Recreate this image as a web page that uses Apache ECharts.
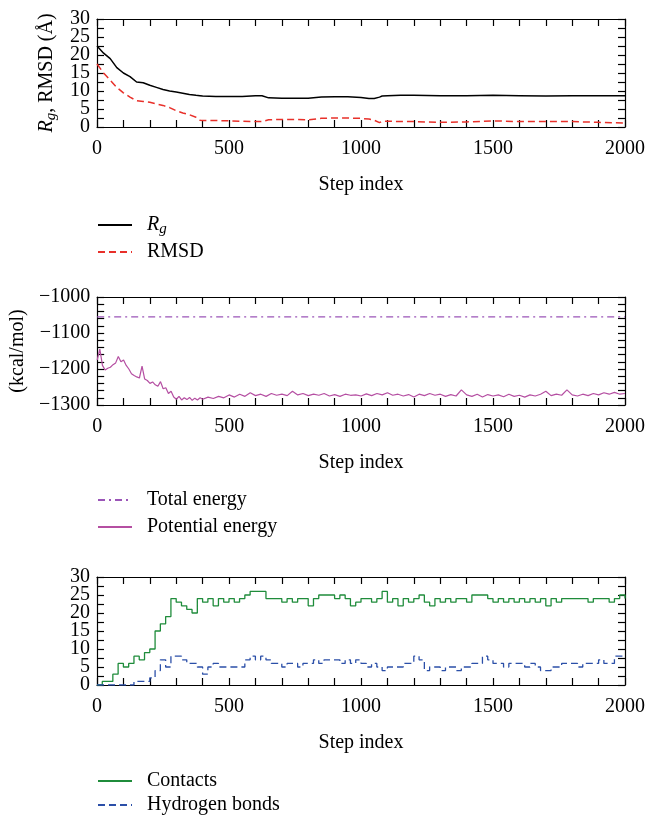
<!DOCTYPE html>
<html>
<head>
<meta charset="utf-8">
<script src="https://cdn.jsdelivr.net/npm/echarts@6/dist/echarts.min.js"></script>
<style>
  html, body { margin: 0; padding: 0; background: #fff; }
</style>
</head>
<body>
<div id="myChart" style="width: 648px; height: 817px;"></div>
<script>
// panel 1: radius of gyration and RMSD
var structSteps = [0, 25, 50, 75, 100, 125, 150, 175, 200, 225, 250, 275, 300, 325, 350, 375, 390, 400, 450, 500,
  550, 600, 625, 650, 700, 750, 800, 850, 900, 950, 1000, 1030, 1050, 1070, 1080, 1100, 1150, 1200, 1300, 1400,
  1500, 1600, 1700, 1800, 1900, 2000];
var rgValues = [22.5, 20.5, 19, 16.5, 15, 14, 12.5, 12.3, 11.6, 11, 10.4, 10, 9.7, 9.4, 9, 8.8, 8.7, 8.6, 8.5, 8.5,
  8.5, 8.7, 8.7, 8.1, 8, 8, 8, 8.3, 8.4, 8.4, 8.2, 7.9, 7.9, 8.3, 8.6, 8.7, 8.8, 8.8, 8.7, 8.7,
  8.8, 8.7, 8.6, 8.7, 8.7, 8.7];
var rmsdValues = [17.5, 15, 13, 11, 9.5, 8.3, 7.3, 7.1, 6.9, 6.4, 6, 5.4, 4.5, 3.9, 3.4, 2.7, 1.9, 1.8, 1.8, 1.7,
  1.6, 1.5, 1.5, 2, 2.1, 2.1, 2, 2.4, 2.5, 2.5, 2.4, 2.2, 1.9, 1.2, 1.6, 1.6, 1.5, 1.5, 1.3, 1.4,
  1.7, 1.5, 1.5, 1.5, 1.3, 1.1];

// panel 2: energies (kcal/mol)
var energySteps = [0, 10, 20, 30, 40, 50, 60, 70, 80, 90, 100, 110, 120, 130, 140, 150, 160, 170, 180, 190,
  200, 210, 220, 230, 240, 250, 260, 270, 280, 290, 300, 310, 320, 330, 340, 350, 360, 370, 380, 390,
  400, 420, 440, 460, 480, 500, 520, 540, 560, 580, 600, 620, 640, 660, 680, 700, 720, 740, 760, 780,
  800, 820, 840, 860, 880, 900, 920, 940, 960, 980, 1000, 1020, 1040, 1060, 1080, 1100, 1120, 1140, 1160, 1180,
  1200, 1220, 1240, 1260, 1280, 1300, 1320, 1340, 1360, 1380, 1400, 1420, 1440, 1460, 1480, 1500, 1520, 1540, 1560, 1580,
  1600, 1620, 1640, 1660, 1680, 1700, 1720, 1740, 1760, 1780, 1800, 1820, 1840, 1860, 1880, 1900, 1920, 1940, 1960, 1980, 2000];
var potentialValues = [-1175, -1145, -1190, -1203, -1198, -1195, -1188, -1183, -1165, -1180, -1175, -1190, -1200, -1213, -1218, -1222, -1225, -1192, -1228, -1232,
  -1240, -1236, -1244, -1248, -1235, -1255, -1252, -1268, -1262, -1278, -1284, -1276, -1286, -1280, -1285, -1279, -1287, -1281, -1286, -1280,
  -1284, -1278, -1282, -1276, -1280, -1272, -1278, -1270, -1276, -1266, -1274, -1270, -1276, -1268, -1273, -1270, -1274, -1262, -1272, -1268,
  -1274, -1270, -1273, -1268, -1275, -1271, -1276, -1270, -1273, -1272, -1275, -1269, -1274, -1268, -1272, -1266, -1273, -1270, -1275, -1271,
  -1278, -1270, -1274, -1268, -1273, -1270, -1276, -1271, -1275, -1258, -1272, -1276, -1270, -1278, -1271, -1275, -1272, -1277, -1270, -1276,
  -1273, -1278, -1272, -1275, -1270, -1262, -1274, -1270, -1273, -1258, -1272, -1275, -1270, -1274, -1268, -1272, -1266, -1270, -1265, -1270, -1268];
var totalEnergy = -1055;

// panel 3: contacts and hydrogen bonds, every 20 steps
var countSteps = [0, 20, 40, 60, 80, 100, 120, 140, 160, 180, 200, 220, 240, 260, 280, 300, 320, 340, 360, 380,
  400, 420, 440, 460, 480, 500, 520, 540, 560, 580, 600, 620, 640, 660, 680, 700, 720, 740, 760, 780,
  800, 820, 840, 860, 880, 900, 920, 940, 960, 980, 1000, 1020, 1040, 1060, 1080, 1100, 1120, 1140, 1160, 1180,
  1200, 1220, 1240, 1260, 1280, 1300, 1320, 1340, 1360, 1380, 1400, 1420, 1440, 1460, 1480, 1500, 1520, 1540, 1560, 1580,
  1600, 1620, 1640, 1660, 1680, 1700, 1720, 1740, 1760, 1780, 1800, 1820, 1840, 1860, 1880, 1900, 1920, 1940, 1960, 1980, 2000];
var contactValues = [0, 1, 1, 3, 6, 5, 6, 8, 7, 9, 10, 15, 17, 19, 24, 23, 22, 21, 20, 24,
  23, 24, 22, 24, 23, 24, 23, 24, 25, 26, 26, 26, 24, 24, 24, 23, 24, 23, 24, 24,
  22, 24, 25, 25, 25, 24, 25, 24, 22, 23, 24, 24, 23, 24, 26, 23, 24, 22, 24, 23,
  24, 25, 23, 22, 24, 23, 24, 23, 24, 24, 23, 25, 25, 25, 24, 23, 24, 23, 24, 23,
  24, 23, 24, 23, 24, 22, 24, 23, 24, 24, 24, 24, 24, 23, 24, 24, 24, 23, 24, 25, 24];
var hbondValues = [0, 0, 0, 0, 0, 0, 0, 1, 1, 1, 2, 4, 7, 5, 8, 8, 7, 6, 6, 5,
  3, 5, 6, 5, 5, 5, 5, 5, 7, 8, 7, 8, 7, 6, 6, 5, 6, 6, 5, 6,
  6, 7, 6, 7, 7, 7, 6, 7, 6, 7, 6, 5, 6, 5, 4, 5, 5, 5, 6, 6,
  8, 7, 4, 5, 5, 4, 5, 5, 4, 5, 5, 6, 6, 8, 7, 6, 6, 5, 6, 6,
  6, 5, 6, 5, 4, 4, 5, 5, 6, 6, 6, 5, 6, 6, 6, 7, 6, 6, 8, 8, 8];

function pairs(steps, vals) {
  return steps.map(function (s, i) { return [s, vals[i]]; });
}

var FONT = 'Liberation Serif';
var grids = [
  { left: 97, top: 19, width: 529, height: 108 },
  { left: 97, top: 297, width: 529, height: 108 },
  { left: 97, top: 577, width: 529, height: 108 }
];
// tick step / label step for each panel's y axis
var yRanges = [
  { min: 0, max: 30, tick: 2.5, label: 5 },
  { min: -1300, max: -1000, tick: 20, label: 100 },
  { min: 0, max: 30, tick: 2.5, label: 5 }
];
var yNames = ['{i|R}{s|g}{n|, RMSD (Å)}', '(kcal/mol)', ''];
var yNameGaps = [38, 60, 0];

function ticks() {
  return { show: true, inside: true, length: 7, lineStyle: { color: '#000', width: 1.2 } };
}
function axLine() {
  return { show: true, onZero: false, lineStyle: { color: '#000', width: 1.2 } };
}
var richName = {
  i: { fontFamily: FONT, fontSize: 20, fontStyle: 'italic', color: '#000', lineHeight: 24, verticalAlign: 'middle' },
  s: { fontFamily: FONT, fontSize: 15, fontStyle: 'italic', color: '#000', lineHeight: 24, verticalAlign: 'bottom', padding: [8, 0, 0, 0] },
  n: { fontFamily: FONT, fontSize: 20, color: '#000', lineHeight: 24, verticalAlign: 'middle' }
};

function labelEvery(step) {
  return function (v) {
    if (Math.abs(v / step - Math.round(v / step)) > 1e-6) return '';
    return String(v).replace('-', '\u2212');
  };
}

var xAxes = [], yAxes = [];
grids.forEach(function (g, k) {
  xAxes.push({
    type: 'value', gridIndex: k, min: 0, max: 2000, interval: 100, position: 'bottom',
    name: 'Step index', nameLocation: 'middle', nameGap: 48,
    nameTextStyle: { fontFamily: FONT, fontSize: 20, color: '#000' },
    axisLine: axLine(), axisTick: ticks(),
    axisLabel: { fontFamily: FONT, fontSize: 20, color: '#000', margin: 12, showMinLabel: true, showMaxLabel: true, formatter: labelEvery(500) },
    splitLine: { show: false }
  });
  xAxes.push({
    type: 'value', gridIndex: k, min: 0, max: 2000, interval: 100, position: 'top',
    axisLine: axLine(), axisTick: ticks(),
    axisLabel: { show: false }, splitLine: { show: false }
  });
  var r = yRanges[k];
  yAxes.push({
    type: 'value', gridIndex: k, min: r.min, max: r.max, interval: r.tick, position: 'left',
    name: yNames[k], nameLocation: 'middle', nameGap: yNameGaps[k], nameRotate: 90,
    nameTextStyle: { fontFamily: FONT, fontSize: 20, color: '#000', rich: richName },
    axisLine: axLine(), axisTick: ticks(),
    axisLabel: {
      fontFamily: FONT, fontSize: 20, color: '#000', margin: 7,
      showMinLabel: true, showMaxLabel: true, hideOverlap: false,
      formatter: labelEvery(r.label)
    },
    splitLine: { show: false }
  });
  yAxes.push({
    type: 'value', gridIndex: k, min: r.min, max: r.max, interval: r.tick, position: 'right',
    axisLine: axLine(), axisTick: ticks(),
    axisLabel: { show: false }, splitLine: { show: false }
  });
});

function legendFor(top, names, gap) {
  return {
    orient: 'vertical', left: 97, top: top, padding: 0, itemWidth: 34, itemHeight: 14, itemGap: gap,
    data: names, selectedMode: false,
    itemStyle: { color: 'transparent', borderWidth: 0, opacity: 0 },
    textStyle: { fontFamily: FONT, fontSize: 20, lineHeight: 20, color: '#000', padding: [0, 0, 0, 10], rich: richName },
    formatter: function (name) { return name === 'Rg' ? '{i|R}{s|g}' : name; }
  };
}

var myChart = echarts.init(document.getElementById('myChart'));
myChart.setOption({
  animation: false,
  grid: grids,
  xAxis: xAxes,
  yAxis: yAxes,
  legend: [
    legendFor(213, ['Rg', 'RMSD'], 5),
    legendFor(490, ['Total energy', 'Potential energy'], 7),
    legendFor(771, ['Contacts', 'Hydrogen bonds'], 4)
  ],
  series: [
    {
      name: 'Rg', type: 'line', xAxisIndex: 0, yAxisIndex: 0, symbol: 'none',
      lineStyle: { color: '#000', width: 1.5 }, itemStyle: { color: '#000' },
      data: pairs(structSteps, rgValues)
    },
    {
      name: 'RMSD', type: 'line', xAxisIndex: 0, yAxisIndex: 0, symbol: 'none',
      lineStyle: { color: '#e8302a', width: 1.5, type: [7, 4] }, itemStyle: { color: '#e8302a' },
      data: pairs(structSteps, rmsdValues)
    },
    {
      name: 'Total energy', type: 'line', xAxisIndex: 2, yAxisIndex: 2, symbol: 'none',
      lineStyle: { color: '#9b55b8', width: 1.3, type: [7, 4, 2, 4] }, itemStyle: { color: '#9b55b8' },
      data: [[0, totalEnergy], [2000, totalEnergy]]
    },
    {
      name: 'Potential energy', type: 'line', xAxisIndex: 2, yAxisIndex: 2, symbol: 'none',
      lineStyle: { color: '#b54fa2', width: 1.2 }, itemStyle: { color: '#b54fa2' },
      data: pairs(energySteps, potentialValues)
    },
    {
      name: 'Contacts', type: 'line', step: 'end', xAxisIndex: 4, yAxisIndex: 4, symbol: 'none',
      lineStyle: { color: '#1f8c3b', width: 1.3 }, itemStyle: { color: '#1f8c3b' },
      data: pairs(countSteps, contactValues)
    },
    {
      name: 'Hydrogen bonds', type: 'line', step: 'end', xAxisIndex: 4, yAxisIndex: 4, symbol: 'none',
      lineStyle: { color: '#2b4fa8', width: 1.3, type: [7, 4] }, itemStyle: { color: '#2b4fa8' },
      data: pairs(countSteps, hbondValues)
    }
  ]
});
</script>
</body>
</html>
